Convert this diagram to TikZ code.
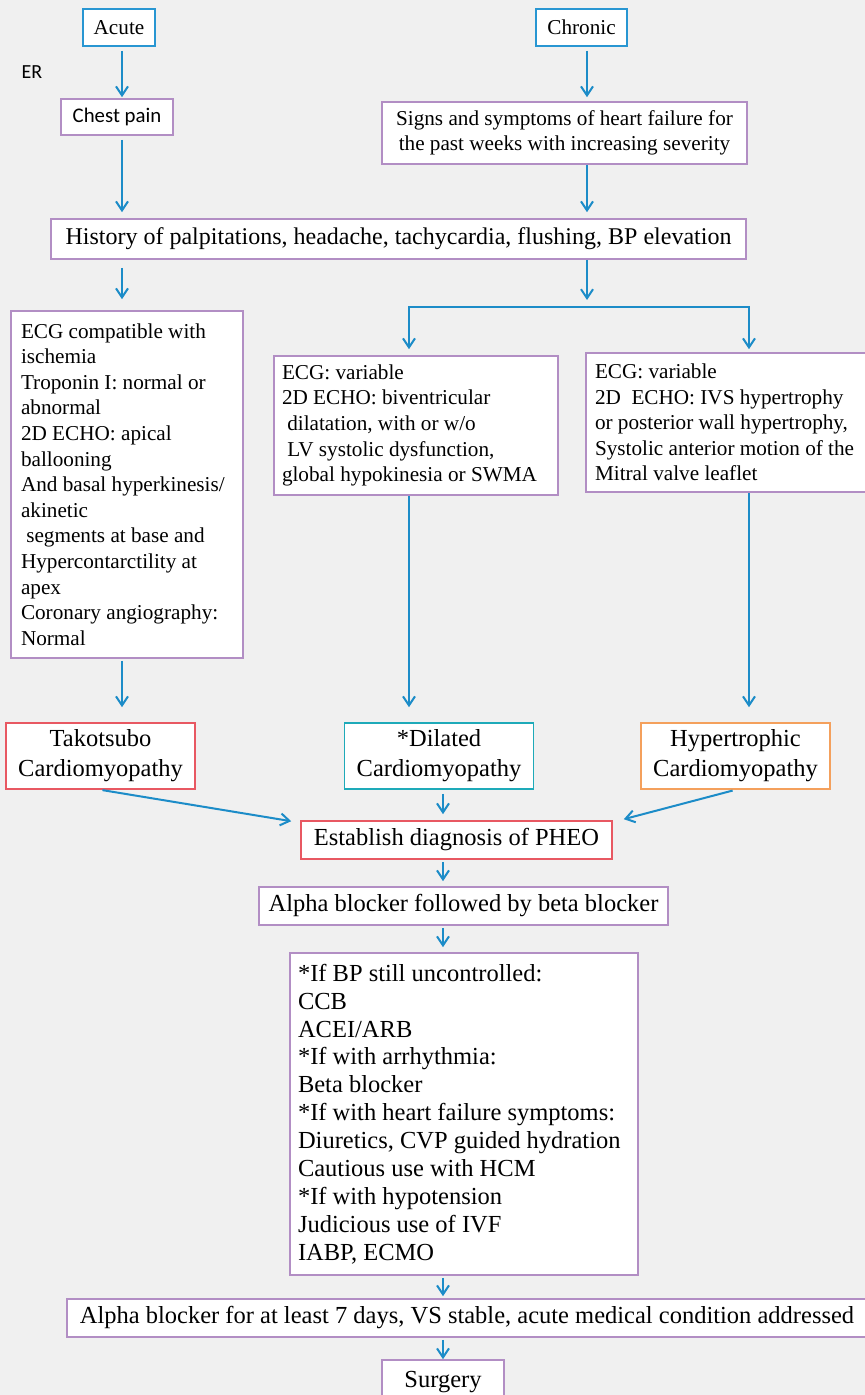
\documentclass[tikz,border=0pt]{standalone}
\usepackage{fontspec}
\setmainfont{Liberation Serif}
\newfontfamily\calibri{Carlito}
\usetikzlibrary{arrows.meta,positioning,calc}
\definecolor{bgc}{RGB}{240,240,240}
\definecolor{purp}{RGB}{178,142,196}
\definecolor{acblue}{RGB}{40,150,210}
\definecolor{dcmteal}{RGB}{30,170,185}
\definecolor{arblue}{RGB}{28,140,200}
\definecolor{tkred}{RGB}{232,88,98}
\definecolor{hcorange}{RGB}{244,160,92}

\begin{document}
\begin{tikzpicture}[x=0.5pt,y=-0.5pt,
  every node/.style={font=\fontsize{10.6}{12.8}\selectfont},
  bx/.style={draw=purp,fill=white,line width=0.8pt,inner sep=0pt,align=center},
  big/.style={font=\fontsize{12.25}{13.95}\selectfont},
  cmbox/.style={bx,minimum width=94.5pt,minimum height=33pt,font=\fontsize{12.25}{15}\selectfont},
  ar/.style={-{Straight Barb[length=4.5pt,width=6pt]},line width=1pt,draw=arblue,shorten <=1pt,shorten >=2.5pt}]
\useasboundingbox (0,0) rectangle (865,1395);
\fill[bgc] (0,0) rectangle (865,1395);
% columns of the arrows
\coordinate (colL) at (122,0);
\coordinate (colC) at (587,0);
\coordinate (colM) at (409,0);
\coordinate (colR) at (749,0);
\coordinate (spine) at (443,0);
\coordinate (fork) at (587,307);
% top
\node[bx,draw=acblue,minimum width=36pt,minimum height=18.5pt] (acute) at (119,27.5) {Acute};
\node[bx,draw=acblue,minimum width=45.5pt,minimum height=18.5pt] (chronic) at (581.5,27.5) {Chronic};
\node[font=\calibri\fontsize{10}{12}\selectfont] (er) at (32,72) {ER};
\node[bx,font=\calibri\fontsize{10.4}{12.5}\selectfont,minimum width=56pt,minimum height=18pt] (chest) at (117,117) {Chest pain};
\node[bx,minimum width=182.5pt,minimum height=31pt] (signs) at (564.5,133) {Signs and symptoms of heart failure for\\the past weeks with increasing severity};
\node[bx,font=\fontsize{12}{14}\selectfont,minimum width=347.5pt,minimum height=20pt] (hist) at (398.5,239) {History of palpitations, headache, tachycardia, flushing, BP elevation};
% findings
\node[bx,align=flush left,text width=106pt,inner xsep=5pt,minimum height=173.5pt] (ecgtk) at (127,484.5) {ECG compatible with\\ischemia\\Troponin I: normal or\\abnormal\\2D ECHO: apical\\ballooning\\And basal hyperkinesis/\\akinetic\\\hspace*{0.25em}segments at base and\\Hypercontarctility at\\apex\\Coronary angiography:\\Normal};
\node[bx,align=flush left,text width=134pt,inner xsep=4pt,minimum height=69.5pt] (ecgdc) at (416,425.5) {ECG: variable\\2D ECHO: biventricular\\\hspace*{0.25em}dilatation, with or w/o\\\hspace*{0.25em}LV systolic dysfunction,\\global hypokinesia or SWMA};
\node[bx,align=flush left,text width=136pt,inner xsep=4.5pt,minimum height=69.5pt] (ecghc) at (731,422.5) {ECG: variable\\2D\ \ ECHO: IVS hypertrophy\\or posterior wall hypertrophy,\\Systolic anterior motion of the\\Mitral valve leaflet};
% diagnoses
\node[cmbox,draw=tkred] (tako) at (100.5,756) {Takotsubo\\Cardiomyopathy};
\node[cmbox,draw=dcmteal] (dcm) at (439,756) {*Dilated\\Cardiomyopathy};
\node[cmbox,draw=hcorange] (hcm) at (735.5,756) {Hypertrophic\\Cardiomyopathy};
% management
\node[bx,big,draw=tkred,minimum width=155.5pt,minimum height=19pt] (pheo) at (456.5,840) {Establish diagnosis of PHEO};
\node[bx,big,minimum width=204.5pt,minimum height=19pt] (alpha) at (463.5,906) {Alpha blocker followed by beta blocker};
\node[bx,big,align=flush left,text width=166pt,inner xsep=4pt,minimum height=161pt] (mgmt) at (464,1114) {*If BP still uncontrolled:\\CCB\\ACEI/ARB\\{}*If with arrhythmia:\\Beta blocker\\{}*If with heart failure symptoms:\\Diuretics, CVP guided hydration\\Cautious use with HCM\\{}*If with hypotension\\Judicious use of IVF\\IABP, ECMO};
\node[bx,big,minimum width=400pt,minimum height=19pt] (prep) at (467,1318) {Alpha blocker for at least 7 days, VS stable, acute medical condition addressed};
\node[bx,big,minimum width=61pt,minimum height=22pt] (surg) at (443,1382) {Surgery};
% connectors
\draw[ar,shorten <=2pt,shorten >=0.5pt] (acute.south -| colL) -- (chest.north -| colL);
\draw[ar,shorten <=2pt,shorten >=2pt] (chronic.south -| colC) -- (signs.north -| colC);
\draw[ar,shorten <=2pt,shorten >=3pt] (chest.south -| colL) -- (hist.north -| colL);
\draw[ar,shorten <=0pt,shorten >=3pt] (signs.south -| colC) -- (hist.north -| colC);
\draw[ar,shorten <=4pt,shorten >=5.5pt] (hist.south -| colL) -- (ecgtk.north -| colL);
\draw[ar,shorten <=0pt,shorten >=3.5pt] (hist.south -| colC) -- (fork);
\draw[ar,shorten <=0pt,shorten >=3pt] (fork) -| (ecgdc.north -| colM);
\draw[ar,shorten <=0pt,shorten >=1.5pt] (fork) -| (ecghc.north -| colR);
\draw[ar,shorten >=7.5pt] (ecgtk.south -| colL) -- (tako.north -| colL);
\draw[ar,shorten <=0pt,shorten >=7.5pt] (ecgdc.south -| colM) -- (dcm.north -| colM);
\draw[ar,shorten <=0pt,shorten >=7.5pt] (ecghc.south -| colR) -- (hcm.north -| colR);
\draw[ar,shorten >=0pt] (tako.south) -- ([xshift=-4.5pt,yshift=-0.5pt]pheo.north west);
\draw[ar,shorten <=1.5pt,shorten >=0pt] (hcm.south) -- ([xshift=5.5pt,yshift=0.5pt]pheo.north east);
\draw[ar,shorten <=2pt,shorten >=3pt] (dcm.south -| spine) -- (pheo.north -| spine);
\draw[ar] (pheo.south -| spine) -- (alpha.north -| spine);
\draw[ar] (alpha.south -| spine) -- (mgmt.north -| spine);
\draw[ar,shorten >=1pt] (mgmt.south -| spine) -- (prep.north -| spine);
\draw[ar,shorten >=0pt] (prep.south -| spine) -- (surg.north -| spine);
\end{tikzpicture}
\end{document}
